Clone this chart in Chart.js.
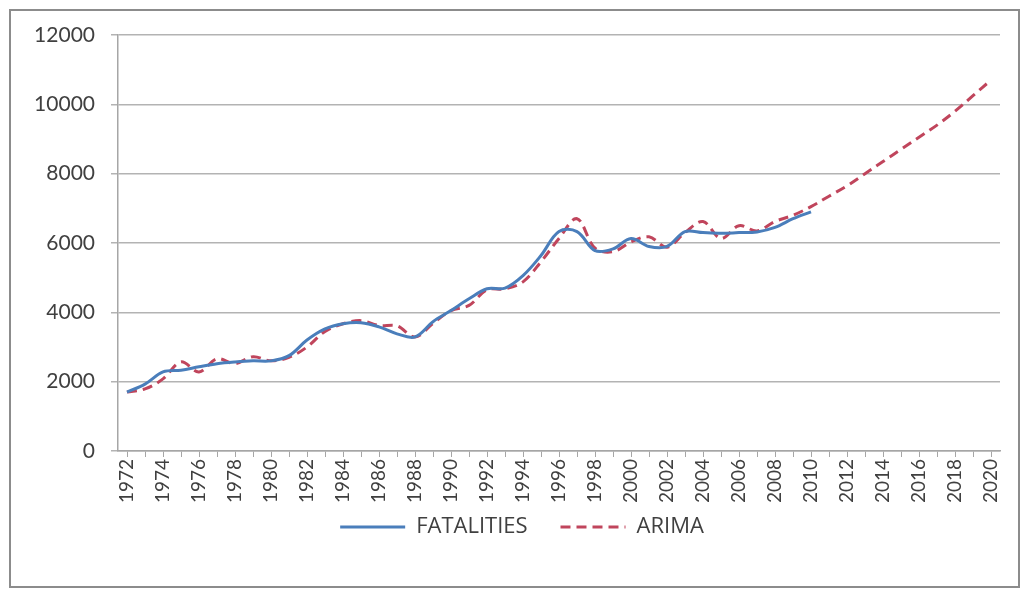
<!DOCTYPE html>
<html>
<head>
<meta charset="utf-8">
<script src="https://cdn.jsdelivr.net/npm/chart.js@4.4.1/dist/chart.umd.min.js"></script>
<style>
  body { margin: 0; background: #fff; }
  #wrap { position: relative; width: 1029px; height: 590px; }
</style>
</head>
<body>
<div id="wrap"><canvas id="chart" width="1029" height="590"></canvas></div>
<script>
// years on the category axis
const years = [];
for (let y = 1972; y <= 2020; y++) years.push(String(y));

// observed fatalities 1972-2010
const fatalities = [1700, 1930, 2280, 2330, 2430, 2520, 2570, 2600, 2600, 2750,
  3200, 3520, 3670, 3700, 3580, 3380, 3290, 3730, 4050, 4390,
  4680, 4700, 5060, 5640, 6330, 6330, 5780, 5830, 6130, 5900,
  5900, 6330, 6300, 6280, 6300, 6320, 6450, 6700, 6900];

// ARIMA fit + forecast 1972-2020
const arima = [1700, 1790, 2080, 2570, 2280, 2660, 2520, 2720, 2600, 2700,
  3000, 3450, 3670, 3760, 3620, 3610, 3290, 3680, 4050, 4200,
  4650, 4680, 4880, 5460, 6130, 6700, 5850, 5750, 6030, 6180,
  5880, 6300, 6620, 6130, 6500, 6350, 6620, 6800, 7050, 7350,
  7650, 8000, 8350, 8700, 9050, 9400, 9800, 10250, 10700];

const seriesNames = ['FATALITIES', 'ARIMA'];
const seriesColors = ['#4a7ebb', '#c0455c'];
const seriesDash = [[], [10, 6]];

const font = "Lato, 'Open Sans', sans-serif";

// gray frame round the whole chart, like the excel chart border
const framePlugin = {
  id: 'frame',
  afterLayout(chart) {
    // centre the legend under the picture, not the canvas
    chart.legend.left = 30;
    chart.legend.right = 1014;
  },
  afterDraw(chart) {
    const ctx = chart.ctx;
    ctx.save();
    ctx.strokeStyle = '#8c8c8c';
    ctx.lineWidth = 2;
    ctx.strokeRect(10, 10, 1009, 577);
    ctx.restore();
  }
};

new Chart(document.getElementById('chart'), {
  type: 'line',
  data: {
    labels: years,
    datasets: [{
      label: seriesNames[0],
      data: fatalities,
      borderColor: seriesColors[0],
      backgroundColor: seriesColors[0],
      borderWidth: 3,
      borderDash: seriesDash[0],
      pointRadius: 0,
      pointStyle: 'line',
      tension: 0.35
    }, {
      label: seriesNames[1],
      data: arima,
      borderColor: seriesColors[1],
      backgroundColor: seriesColors[1],
      borderWidth: 3,
      borderDash: seriesDash[1],
      pointRadius: 0,
      pointStyle: 'line',
      tension: 0.35
    }]
  },
  options: {
    responsive: false,
    animation: false,
    layout: { padding: { top: 35, right: 29, left: 0, bottom: 42 } },
    plugins: {
      tooltip: { enabled: false },
      legend: {
        position: 'bottom',
        labels: {
          usePointStyle: true,
          pointStyleWidth: 65,
          padding: 10,
          color: '#404040',
          font: { family: "'Open Sans', sans-serif", size: 22 },
          generateLabels(chart) {
            const items = Chart.defaults.plugins.legend.labels.generateLabels(chart);
            items.forEach((it, i) => {
              // point style has no dash, so take it from the series
              it.lineDash = seriesDash[i];
              it.lineWidth = 3;
              it.strokeStyle = seriesColors[i];
            });
            items[0].text = items[0].text + '    ';
            return items;
          }
        }
      },
    },
    scales: {
      x: {
        offset: true,
        afterFit(scale) { scale.height = 55; },
        grid: {
          drawOnChartArea: false,
          drawTicks: true,
          tickLength: 6,
          color: '#a6a6a6'
        },
        border: { color: '#a6a6a6', width: 1.5 },
        ticks: {
          autoSkip: false,
          minRotation: 90,
          maxRotation: 90,
          padding: 2,
          color: '#404040',
          font: { family: font, size: 19 },
          callback: function(val, i) { return i % 2 === 0 ? this.getLabelForValue(val) : ''; }
        }
      },
      y: {
        min: 0,
        max: 12000,
        afterFit(scale) { scale.width = 118; },
        grid: {
          color: '#b3b3b3',
          lineWidth: 1.5,
          tickLength: 7
        },
        border: { color: '#a6a6a6', width: 1.5 },
        ticks: {
          stepSize: 2000,
          padding: 16,
          color: '#404040',
          font: { family: font, size: 21 },
          callback: v => String(v)
        }
      }
    }
  },
  plugins: [framePlugin]
});
</script>
</body>
</html>
